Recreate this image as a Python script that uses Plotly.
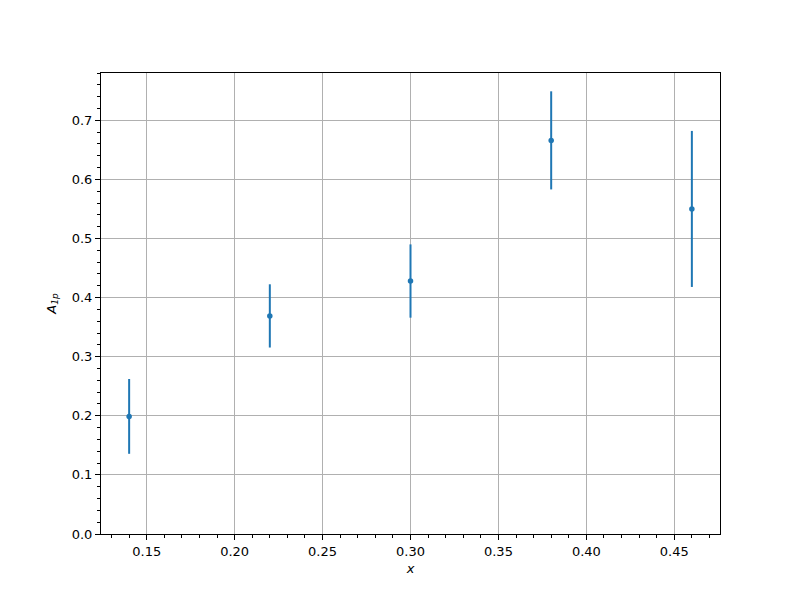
import plotly.graph_objects as go

x_vals = [0.14, 0.22, 0.30, 0.38, 0.46]
a1p_vals = [0.199, 0.369, 0.428, 0.666, 0.550]
a1p_errs = [0.0633, 0.0535, 0.062, 0.083, 0.132]

blue = "#1f77b4"
font = "DejaVu Sans, Liberation Sans, sans-serif"

fig = go.Figure()
fig.add_trace(go.Scatter(
    x=x_vals, y=a1p_vals, mode="markers",
    marker=dict(color=blue, size=5.5),
    error_y=dict(type="data", array=a1p_errs, visible=True, color=blue,
                 thickness=2, width=0),
    showlegend=False,
))

axis_common = dict(
    showline=True, linecolor="black", linewidth=1, mirror=True,
    ticks="outside", ticklen=5, tickwidth=1, tickcolor="black",
    showgrid=True, gridcolor="#b0b0b0", gridwidth=1,
    zeroline=False,
    tickfont=dict(family=font, size=13, color="black"),
)

fig.update_xaxes(
    range=[0.124, 0.476], tick0=0.15, dtick=0.05, tickformat=".2f",
    minor=dict(dtick=0.01, tick0=0.0, ticks="outside", ticklen=3, tickcolor="black", showgrid=False),
    title=dict(text="<i>x</i>", font=dict(family=font, size=13, color="black"), standoff=6),
    **axis_common,
)
fig.update_yaxes(
    range=[0, 0.78], tick0=0, dtick=0.1, tickformat=".1f",
    minor=dict(dtick=0.02, tick0=0.0, ticks="outside", ticklen=3, tickcolor="black", showgrid=False),
    title=dict(text="<i>A<sub>1p</sub></i>", font=dict(family=font, size=13, color="black"), standoff=12),
    **axis_common,
)

fig.update_layout(
    width=800, height=600,
    margin=dict(l=93, r=88, t=65, b=74, pad=0),
    plot_bgcolor="white", paper_bgcolor="white",
    font=dict(family=font, size=13, color="black"),
)

fig.write_html("out.html")
